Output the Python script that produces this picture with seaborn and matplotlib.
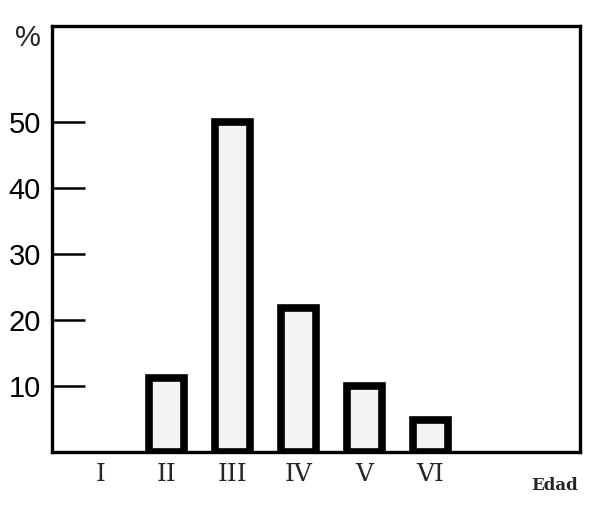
import pandas as pd
import matplotlib
matplotlib.use("Agg")
import matplotlib.pyplot as plt
import seaborn as sns

# Age classes and share of each one (%)
edad = ["I", "II", "III", "IV", "V", "VI"]
porcentaje = [0, 11.2, 50, 21.8, 10, 4.8]

df = pd.DataFrame({"edad": edad, "porcentaje": porcentaje})

sns.set_style("white")
plt.rcParams["font.family"] = ["Liberation Sans", "DejaVu Sans"]

fig = plt.figure(figsize=(6, 5.08), dpi=100)
ax = fig.add_axes([0.087, 0.110, 0.880, 0.839])

sns.barplot(data=df, x="edad", y="porcentaje", order=edad, width=0.52,
            color="#f3f3f3", edgecolor="black", linewidth=5.5,
            saturation=1, ax=ax)
for p in ax.patches:
    if p.get_height() == 0:
        p.set_visible(False)

ax.set_xlim(-0.73, 7.27)
ax.set_ylim(0, 64.5)
ax.set_yticks([10, 20, 30, 40, 50])
ax.set_xlabel("")
ax.set_ylabel("")

for s in ax.spines.values():
    s.set_linewidth(2.4)
    s.set_color("black")
    s.set_zorder(5)

ax.tick_params(axis="y", left=True, direction="in", length=24, width=1.8,
               pad=8, labelsize=21, colors="black")
ax.tick_params(axis="x", bottom=False, length=0, pad=8)
for lab in ax.get_xticklabels():
    lab.set_fontfamily("DejaVu Serif")
    lab.set_fontsize(18)

fig.text(0.025, 0.925, "%", fontsize=21, ha="left", va="center")
fig.text(0.963, 0.045, "Edad", fontsize=12, fontweight="bold",
         family="DejaVu Serif", ha="right", va="center")

fig.savefig("out.png", dpi=100)
